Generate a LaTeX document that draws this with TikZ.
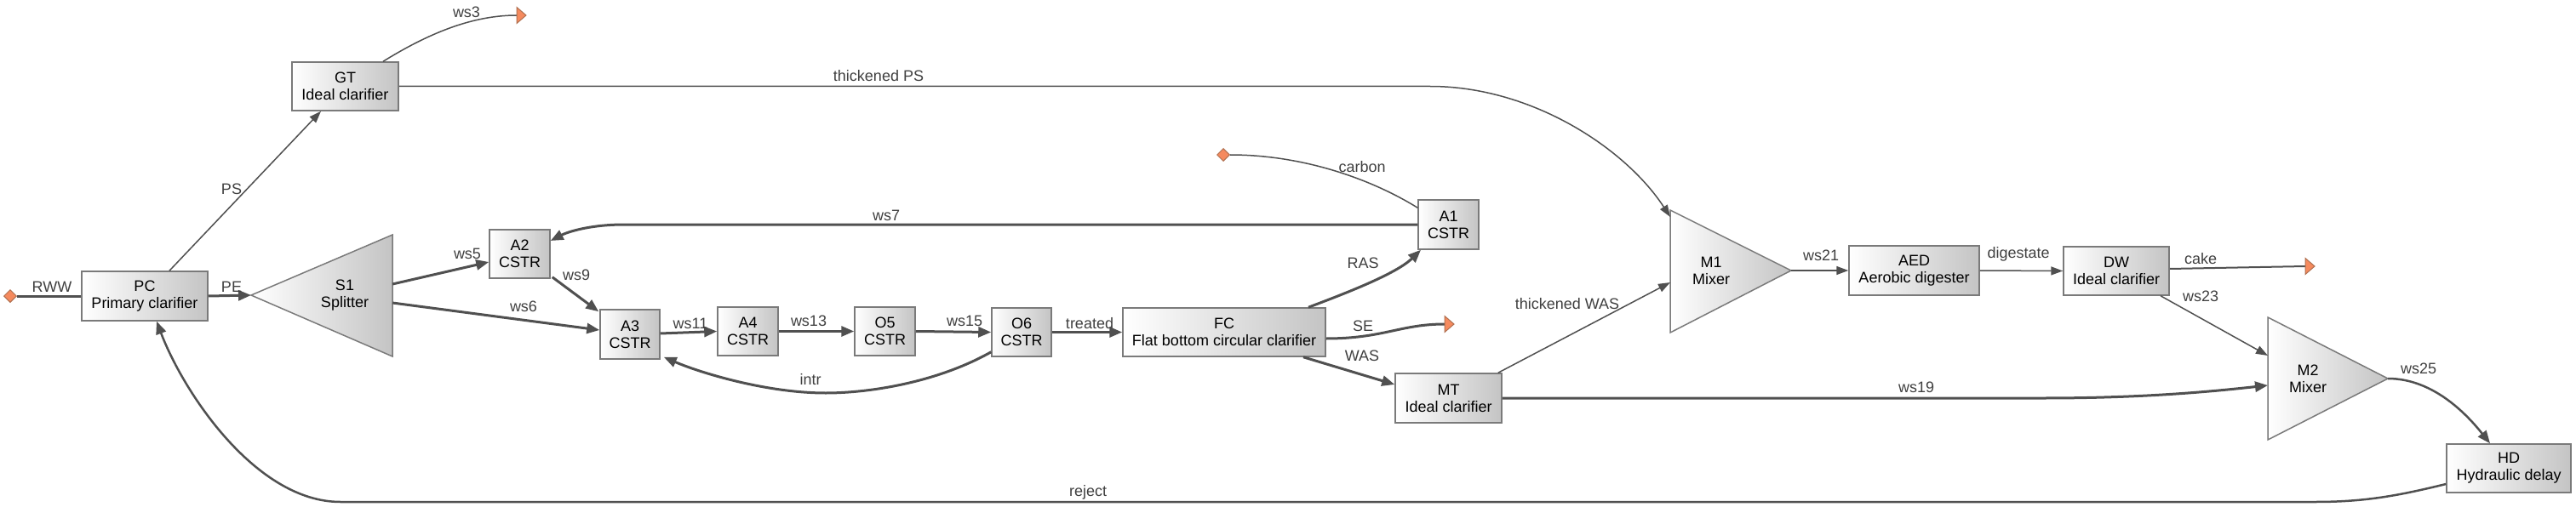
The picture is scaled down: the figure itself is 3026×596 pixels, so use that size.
\documentclass[tikz,border=0pt]{standalone}
\usepackage{fontspec}
\setmainfont{Liberation Sans}
\usetikzlibrary{arrows.meta,calc,shapes.geometric}
\definecolor{edgec}{HTML}{505050}
\definecolor{boxline}{HTML}{7A7A7A}
\definecolor{boxdark}{HTML}{C4C4C4}
\definecolor{lblc}{HTML}{404040}
\definecolor{orng}{HTML}{F58A5E}
\definecolor{orngline}{HTML}{B07050}
\tikzset{
  unit/.style={draw=boxline, line width=1.5pt, left color=white, right color=boxdark,
    align=center, font=\fontsize{18}{20}\selectfont, inner sep=0pt, text=black},
  tri/.style={draw=boxline, line width=1.5pt, left color=white, right color=boxdark},
  tritext/.style={align=center, font=\fontsize{18}{20}\selectfont, inner sep=0pt, text=black},
  fatline/.style={draw=edgec, line width=3pt},
  slimline/.style={draw=edgec, line width=1.5pt},
  midline/.style={draw=edgec, line width=2.5pt},
  fatarrow/.style={fatline, -{Triangle[length=15pt,width=12pt]}},
  slimarrow/.style={slimline, -{Triangle[length=14pt,width=10pt]}},
  midarrow/.style={midline, -{Triangle[length=15pt,width=12pt]}},
  lab/.style={text=lblc, font=\fontsize{18}{20}\selectfont, inner sep=0pt},
  srcmark/.style={diamond, draw=orngline, fill=orng, minimum width=15pt, minimum height=15pt, inner sep=0pt, line width=1pt},
  snkmark/.style={draw=orngline, fill=orng, line width=1pt, line join=miter},
}
\begin{document}
\begin{tikzpicture}[x=1pt, y=-1pt]
\useasboundingbox (0,0) rectangle (3026,596);
\fill[white] (0,0) rectangle (3026,596);

% ---------- units ----------
\node[unit, minimum width=148pt, minimum height=58pt] (PC) at (170,348) {PC\\Primary clarifier};
\node[unit, minimum width=125pt, minimum height=57pt] (GT) at (405.5,101.5) {GT\\Ideal clarifier};
\node[unit, minimum width=71pt, minimum height=57pt] (A2) at (610.5,298.5) {A2\\CSTR};
\node[unit, minimum width=70pt, minimum height=58pt] (A3) at (740,393) {A3\\CSTR};
\node[unit, minimum width=71pt, minimum height=57pt] (A4) at (878.5,389.5) {A4\\CSTR};
\node[unit, minimum width=71pt, minimum height=57pt] (O5) at (1039.5,389.5) {O5\\CSTR};
\node[unit, minimum width=70pt, minimum height=57pt] (O6) at (1200,390.5) {O6\\CSTR};
\node[unit, minimum width=238pt, minimum height=57pt] (FC) at (1438,390.5) {FC\\Flat bottom circular clarifier};
\node[unit, minimum width=71pt, minimum height=58pt] (A1) at (1701.5,264) {A1\\CSTR};
\node[unit, minimum width=125pt, minimum height=58pt] (MT) at (1701.5,468) {MT\\Ideal clarifier};
\node[unit, minimum width=153pt, minimum height=58pt] (AED) at (2248.5,318) {AED\\Aerobic digester};
\node[unit, minimum width=124pt, minimum height=57pt] (DW) at (2486,318.5) {DW\\Ideal clarifier};
\node[unit, minimum width=146pt, minimum height=57pt] (HD) at (2947,550.5) {HD\\Hydraulic delay};

% ---------- triangles ----------
\draw[tri] (295,347) -- (461,276) -- (461,419) -- cycle;
\node[tritext] (S1) at (405,347) {S1\\Splitter};
\coordinate (S1in) at (295,347);
\coordinate (S1a) at (461,334);
\coordinate (S1b) at (461,356);

\draw[tri] (1962,247) -- (2104,318) -- (1962,391) -- cycle;
\node[tritext] (M1) at (2010,318) {M1\\Mixer};
\coordinate (M1in1) at (1962,255);
\coordinate (M1in2) at (1962,332);
\coordinate (M1out) at (2104,318);

\draw[tri] (2664,373) -- (2805,445) -- (2664,517) -- cycle;
\node[tritext] (M2) at (2711,445) {M2\\Mixer};
\coordinate (M2in1) at (2664,418);
\coordinate (M2in2) at (2664,453);
\coordinate (M2out) at (2805,445);

% ---------- sources and sinks ----------
\node[srcmark] (src1) at (12,348) {};
\node[srcmark] (src2) at (1437,182) {};
\coordinate (snk1) at (607,18);
\coordinate (snk2) at (1697,381);
\coordinate (snk3) at (2708,313);

% ---------- streams ----------
\draw[fatline] (src1) -- (PC.west);
\draw[fatarrow] (PC.east) -- (S1in);
\draw[slimarrow] ($(PC.north)+(29,0)$) -- ($(GT.south)+(-28.5,0)$);
\draw[slimline] ($(GT.north)+(44.5,0)$) .. controls (510,35) and (560,18) .. (snk1);
\draw[slimarrow] (GT.east) -- (1680,101.5) .. controls (1800,101.5) and (1910,175) .. (M1in1);
\draw[fatarrow] (S1a) -- ($(A2.west)+(0,9.5)$);
\draw[fatarrow] (S1b) -- ($(A3.west)+(0,-5)$);
\draw[fatarrow] (A1.west) -- (733,264) .. controls (695,264) and (668,272) .. ($(A2.east)+(0,-15.5)$);
\draw[fatarrow] ($(A2.south east)+(2,-2)$) -- ($(A3.north west)+(-1,3)$);
\draw[fatarrow] ($(A3.east)+(0,-1)$) -- (A4.west);
\draw[fatarrow] (A4.east) -- (O5.west);
\draw[fatarrow] (O5.east) -- (O6.west);
\draw[fatarrow] (O6.east) -- (FC.west);
\draw[fatarrow] ($(O6.south west)+(0,-6)$) .. controls (1100,450) and (1020,462) .. (970,462)
   .. controls (900,462) and (822,438) .. ($(A3.south east)+(4,-3)$);
\draw[slimline] (src2.east) .. controls (1530,182) and (1610,210) .. ($(A1.north west)+(0,10)$);
\draw[fatarrow] ($(FC.north)+(99,0)$) .. controls (1580,345) and (1640,322) .. ($(A1.south)+(-32.5,0)$);
\draw[fatline] ($(FC.east)+(0,7.5)$) .. controls (1625,398) and (1645,381) .. (snk2);
\draw[fatarrow] ($(FC.south)+(93,0)$) -- ($(MT.west)+(0,-16)$);
\draw[slimarrow] ($(MT.north east)+(-5,0)$) -- (M1in2);
\draw[fatarrow] (MT.east) -- (2400,468) .. controls (2520,468) and (2600,460) .. (M2in2);
\draw[slimarrow] (M1out) -- (AED.west);
\draw[slimarrow] (AED.east) -- (DW.west);
\draw[slimline, line width=2pt] ($(DW.east)+(0,-2.5)$) -- (snk3);
\draw[slimarrow] ($(DW.south)+(52,0)$) -- (M2in1);
\draw[midarrow] (M2out) .. controls (2860,445) and (2900,490) .. ($(HD.north)+(-22,0)$);
\draw[midarrow] ($(HD.west)+(0,18.5)$) .. controls (2820,582) and (2780,590) .. (2720,590)
   -- (400,590) .. controls (300,590) and (215,460) .. ($(PC.south)+(14,0)$);

% sink markers
\draw[snkmark] (snk1) -- ++(0,-9.5) -- ++(11,9.5) -- ++(-11,9.5) -- cycle;
\draw[snkmark] (snk2) -- ++(0,-9.5) -- ++(11,9.5) -- ++(-11,9.5) -- cycle;
\draw[snkmark] (snk3) -- ++(0,-9.5) -- ++(11,9.5) -- ++(-11,9.5) -- cycle;

% ---------- labels ----------
\node[lab] (lRWW) at (61,337) {RWW};
\node[lab] (lPE) at (272,337) {PE};
\node[lab] (lPS) at (272,222) {PS};
\node[lab] (lws3) at (548,14) {ws3};
\node[lab] (lthPS) at (1032,89) {thickened PS};
\node[lab] (lws5) at (549,298) {ws5};
\node[lab] (lws6) at (615,360) {ws6};
\node[lab] (lws7) at (1041,253) {ws7};
\node[lab] (lws9) at (677,323) {ws9};
\node[lab] (lws11) at (811,380) {ws11};
\node[lab] (lws13) at (950,377) {ws13};
\node[lab] (lws15) at (1133,377) {ws15};
\node[lab] (ltreated) at (1280,380) {treated};
\node[lab] (lintr) at (952,446) {intr};
\node[lab] (lcarbon) at (1600,196) {carbon};
\node[lab] (lRAS) at (1601,309) {RAS};
\node[lab] (lSE) at (1601,383) {SE};
\node[lab] (lWAS) at (1600,418) {WAS};
\node[lab] (lthWAS) at (1841,357) {thickened WAS};
\node[lab] (lws19) at (2251,455) {ws19};
\node[lab] (lws21) at (2139,300) {ws21};
\node[lab] (ldig) at (2371,299) {digestate};
\node[lab] (lcake) at (2585,304) {cake};
\node[lab] (lws23) at (2585,348) {ws23};
\node[lab] (lws25) at (2841,433) {ws25};
\node[lab] (lreject) at (1278,579) {reject};
\end{tikzpicture}
\end{document}
